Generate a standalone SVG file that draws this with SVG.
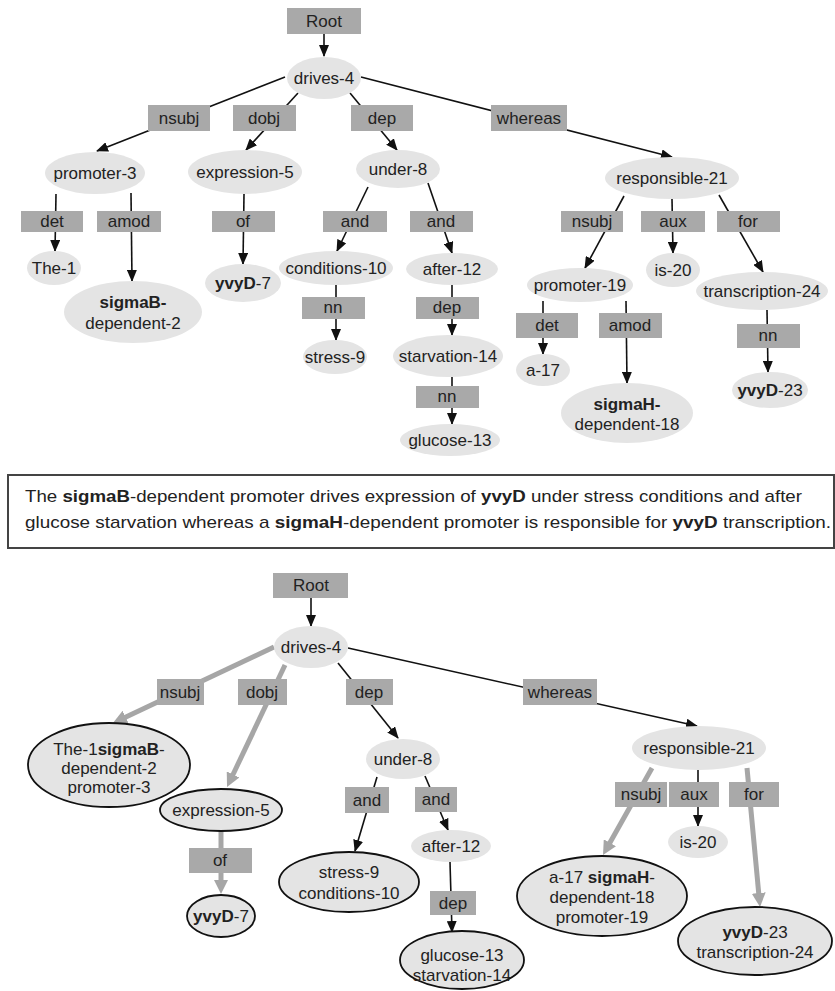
<svg xmlns="http://www.w3.org/2000/svg" width="835" height="991" viewBox="0 0 835 991">
<defs>
<style>
.box{fill:#a9a9a9}
.nd{fill:#e4e4e4}
.ol{fill:#e4e4e4;stroke:#111;stroke-width:1.8}
.t{font-family:"Liberation Sans",Arial,sans-serif;font-size:17px;fill:#222;text-anchor:middle}
.s{font-family:"Liberation Sans",Arial,sans-serif;font-size:17px;fill:#222}
.b{font-weight:bold}
.e{stroke:#111;stroke-width:1.6;fill:none;marker-end:url(#ah)}
.g{stroke:#a6a6a6;stroke-width:5;fill:none;marker-end:url(#gh)}
</style>
<marker id="ah" markerUnits="userSpaceOnUse" markerWidth="12" markerHeight="10" viewBox="0 0 12 10" refX="11" refY="5" orient="auto"><path d="M0,0 L12,5 L0,10 z" fill="#111"/></marker>
<marker id="gh" markerUnits="userSpaceOnUse" markerWidth="14" markerHeight="14" viewBox="0 0 14 14" refX="2" refY="7" orient="auto"><path d="M0,0 L14,7 L0,14 z" fill="#a6a6a6"/></marker>
</defs>
<rect width="835" height="991" fill="#fff"/>

<g id="connectors">
<!-- top tree -->
<path class="e" d="M324,34 L324,56"/>
<path class="e" d="M285,77 L97,151"/>
<path class="e" d="M298,93 L246,150"/>
<path class="e" d="M350,93 L397,150"/>
<path class="e" d="M361,77 L672,157"/>
<path class="e" d="M56,194 L55,251"/>
<path class="e" d="M131,193 L132,281"/>
<path class="e" d="M244,194 L243,264"/>
<path class="e" d="M368,187 L337,251"/>
<path class="e" d="M428,183 L452,253"/>
<path class="e" d="M336,285 L336,340"/>
<path class="e" d="M452,285 L452,335"/>
<path class="e" d="M452,377 L452,424"/>
<path class="e" d="M624,196 L585,268"/>
<path class="e" d="M672,199 L673,253"/>
<path class="e" d="M719,195 L763,272"/>
<path class="e" d="M543,301 L543,354"/>
<path class="e" d="M626,301 L627,383"/>
<path class="e" d="M767,310 L768,372"/>
<!-- bottom tree -->
<path class="e" d="M311,598 L311,626"/>
<path class="g" d="M274,647 L123.8,717.9"/>
<path class="g" d="M285,665 L232.2,776.2"/>
<path class="e" d="M338,663 L398,738"/>
<path class="e" d="M348,648 L697,726"/>
<path class="g" d="M221,831 L221,882"/>
<path class="e" d="M377,777 L355,851"/>
<path class="e" d="M425,776 L448,830"/>
<path class="e" d="M450,862 L452,932"/>
<path class="g" d="M652,768 L608.9,844.5"/>
<path class="e" d="M698,770 L698,826"/>
<path class="g" d="M747,768 L758.9,895"/>
</g>

<!-- top tree labels -->
<g id="l-root"><rect class="box" x="287" y="8" width="74" height="26"/><text class="t" x="324" y="27">Root</text></g>
<g id="l-nsubj"><rect class="box" x="148" y="105" width="62" height="26"/><text class="t" x="179" y="124">nsubj</text></g>
<g id="l-dobj"><rect class="box" x="233" y="105" width="63" height="26"/><text class="t" x="264" y="124">dobj</text></g>
<g id="l-dep"><rect class="box" x="351" y="105" width="62" height="26"/><text class="t" x="382" y="124">dep</text></g>
<g id="l-whereas"><rect class="box" x="491" y="105" width="76" height="26"/><text class="t" x="529" y="124">whereas</text></g>
<g id="l-det1"><rect class="box" x="21" y="211" width="62" height="21"/><text class="t" x="52" y="227">det</text></g>
<g id="l-amod1"><rect class="box" x="97" y="211" width="64" height="21"/><text class="t" x="129" y="227">amod</text></g>
<g id="l-of"><rect class="box" x="212" y="211" width="63" height="21"/><text class="t" x="243" y="227">of</text></g>
<g id="l-and1"><rect class="box" x="323" y="211" width="64" height="21"/><text class="t" x="355" y="227">and</text></g>
<g id="l-and2"><rect class="box" x="410" y="211" width="63" height="21"/><text class="t" x="441" y="227">and</text></g>
<g id="l-nsubj2"><rect class="box" x="561" y="211" width="62" height="21"/><text class="t" x="592" y="227">nsubj</text></g>
<g id="l-aux"><rect class="box" x="641" y="211" width="64" height="21"/><text class="t" x="673" y="227">aux</text></g>
<g id="l-for"><rect class="box" x="717" y="211" width="63" height="21"/><text class="t" x="748" y="227">for</text></g>
<g id="l-nn1"><rect class="box" x="302" y="297" width="63" height="22"/><text class="t" x="333" y="313">nn</text></g>
<g id="l-dep2"><rect class="box" x="416" y="297" width="63" height="22"/><text class="t" x="447" y="313">dep</text></g>
<g id="l-nn2"><rect class="box" x="416" y="386" width="63" height="22"/><text class="t" x="447" y="402">nn</text></g>
<g id="l-det2"><rect class="box" x="516" y="313" width="62" height="25"/><text class="t" x="547" y="331">det</text></g>
<g id="l-amod2"><rect class="box" x="599" y="313" width="63" height="25"/><text class="t" x="630" y="331">amod</text></g>
<g id="l-nn3"><rect class="box" x="737" y="324" width="63" height="24"/><text class="t" x="768" y="341">nn</text></g>

<!-- top tree nodes -->
<g id="n-drives"><ellipse class="nd" cx="324" cy="78" rx="37" ry="21"/><text class="t" x="324" y="84">drives-4</text></g>
<g id="n-promoter3"><ellipse class="nd" cx="95" cy="173" rx="50" ry="21"/><text class="t" x="95" y="179">promoter-3</text></g>
<g id="n-expression5"><ellipse class="nd" cx="245" cy="172" rx="57" ry="22"/><text class="t" x="245" y="178">expression-5</text></g>
<g id="n-under8"><ellipse class="nd" cx="398" cy="169" rx="42" ry="19"/><text class="t" x="398" y="175">under-8</text></g>
<g id="n-responsible21"><ellipse class="nd" cx="672" cy="178" rx="67" ry="21"/><text class="t" x="672" y="184">responsible-21</text></g>
<g id="n-the1"><ellipse class="nd" cx="54" cy="268" rx="27" ry="17"/><text class="t" x="54" y="274">The-1</text></g>
<g id="n-sigmaB"><ellipse class="nd" cx="133" cy="312" rx="69" ry="31"/><text class="t b" x="133" y="308">sigmaB-</text><text class="t" x="133" y="329">dependent-2</text></g>
<g id="n-yvyD7"><ellipse class="nd" cx="243" cy="283" rx="38" ry="19"/><text class="t" x="243" y="289"><tspan class="b">yvyD</tspan>-7</text></g>
<g id="n-conditions10"><ellipse class="nd" cx="336" cy="268" rx="57" ry="17"/><text class="t" x="336" y="274">conditions-10</text></g>
<g id="n-after12"><ellipse class="nd" cx="452" cy="269" rx="46" ry="16"/><text class="t" x="452" y="275">after-12</text></g>
<g id="n-stress9"><ellipse class="nd" cx="335" cy="357" rx="32" ry="17"/><text class="t" x="335" y="363">stress-9</text></g>
<g id="n-starvation14"><ellipse class="nd" cx="448" cy="356" rx="55" ry="21"/><text class="t" x="448" y="362">starvation-14</text></g>
<g id="n-glucose13"><ellipse class="nd" cx="450" cy="440" rx="50" ry="16"/><text class="t" x="450" y="446">glucose-13</text></g>
<g id="n-promoter19"><ellipse class="nd" cx="580" cy="285" rx="53" ry="17"/><text class="t" x="580" y="291">promoter-19</text></g>
<g id="n-is20"><ellipse class="nd" cx="673" cy="270" rx="27" ry="17"/><text class="t" x="673" y="276">is-20</text></g>
<g id="n-transcription24"><ellipse class="nd" cx="762" cy="291" rx="66" ry="19"/><text class="t" x="762" y="297">transcription-24</text></g>
<g id="n-a17"><ellipse class="nd" cx="543" cy="370" rx="27" ry="16"/><text class="t" x="543" y="376">a-17</text></g>
<g id="n-sigmaH"><ellipse class="nd" cx="627" cy="413" rx="66" ry="30"/><text class="t b" x="627" y="410">sigmaH-</text><text class="t" x="627" y="430">dependent-18</text></g>
<g id="n-yvyD23"><ellipse class="nd" cx="770" cy="390" rx="38" ry="18"/><text class="t" x="770" y="396"><tspan class="b">yvyD</tspan>-23</text></g>

<!-- sentence box -->
<g id="sentence">
<rect x="8" y="475" width="826" height="73" fill="#fff" stroke="#444" stroke-width="2"/>
<text class="s" x="25" y="502" textLength="777" lengthAdjust="spacingAndGlyphs">The <tspan class="b">sigmaB</tspan>-dependent promoter drives expression of <tspan class="b">yvyD</tspan> under stress conditions and after</text>
<text class="s" x="25" y="528" textLength="806" lengthAdjust="spacingAndGlyphs">glucose starvation whereas a <tspan class="b">sigmaH</tspan>-dependent promoter is responsible for <tspan class="b">yvyD</tspan> transcription.</text>
</g>

<!-- bottom tree labels -->
<g id="m-root"><rect class="box" x="273" y="573" width="75" height="25"/><text class="t" x="311" y="591">Root</text></g>
<g id="m-nsubj"><rect class="box" x="157" y="679" width="47" height="26"/><text class="t" x="180" y="698">nsubj</text></g>
<g id="m-dobj"><rect class="box" x="238" y="679" width="49" height="26"/><text class="t" x="262" y="698">dobj</text></g>
<g id="m-dep"><rect class="box" x="346" y="679" width="47" height="26"/><text class="t" x="369" y="698">dep</text></g>
<g id="m-whereas"><rect class="box" x="523" y="679" width="74" height="26"/><text class="t" x="560" y="698">whereas</text></g>
<g id="m-of"><rect class="box" x="189" y="848" width="63" height="25"/><text class="t" x="220" y="866">of</text></g>
<g id="m-and1"><rect class="box" x="345" y="787" width="44" height="26"/><text class="t" x="367" y="806">and</text></g>
<g id="m-and2"><rect class="box" x="415" y="787" width="42" height="25"/><text class="t" x="436" y="805">and</text></g>
<g id="m-dep2"><rect class="box" x="430" y="891" width="46" height="24"/><text class="t" x="453" y="909">dep</text></g>
<g id="m-nsubj2"><rect class="box" x="615" y="782" width="52" height="25"/><text class="t" x="641" y="800">nsubj</text></g>
<g id="m-aux"><rect class="box" x="669" y="782" width="50" height="25"/><text class="t" x="694" y="800">aux</text></g>
<g id="m-for"><rect class="box" x="729" y="782" width="50" height="25"/><text class="t" x="754" y="800">for</text></g>

<!-- bottom tree nodes -->
<g id="m-drives"><ellipse class="nd" cx="311" cy="647" rx="37" ry="21"/><text class="t" x="311" y="653">drives-4</text></g>
<g id="m-np1"><ellipse class="ol" cx="109" cy="765" rx="81" ry="42"/><text class="t" x="109" y="755">The-1<tspan class="b">sigmaB</tspan>-</text><text class="t" x="109" y="774">dependent-2</text><text class="t" x="109" y="793">promoter-3</text></g>
<g id="m-expression5"><ellipse class="ol" cx="221" cy="810" rx="61" ry="21"/><text class="t" x="221" y="816">expression-5</text></g>
<g id="m-yvyD7"><ellipse class="ol" cx="221" cy="916" rx="34" ry="21"/><text class="t" x="221" y="922"><tspan class="b">yvyD</tspan>-7</text></g>
<g id="m-under8"><ellipse class="nd" cx="403" cy="759" rx="37" ry="20"/><text class="t" x="403" y="765">under-8</text></g>
<g id="m-stress"><ellipse class="ol" cx="349" cy="882" rx="70" ry="30"/><text class="t" x="349" y="878">stress-9</text><text class="t" x="349" y="899">conditions-10</text></g>
<g id="m-after12"><ellipse class="nd" cx="451" cy="846" rx="40" ry="16"/><text class="t" x="451" y="852">after-12</text></g>
<g id="m-glucose"><ellipse class="ol" cx="462" cy="960" rx="62" ry="29"/><text class="t" x="462" y="961">glucose-13</text><text class="t" x="462" y="981">starvation-14</text></g>
<g id="m-responsible21"><ellipse class="nd" cx="699" cy="748" rx="67" ry="22"/><text class="t" x="699" y="754">responsible-21</text></g>
<g id="m-np2"><ellipse class="ol" cx="602" cy="896" rx="85" ry="40"/><text class="t" x="602" y="883">a-17 <tspan class="b">sigmaH</tspan>-</text><text class="t" x="602" y="903">dependent-18</text><text class="t" x="602" y="923">promoter-19</text></g>
<g id="m-is20"><ellipse class="nd" cx="698" cy="842" rx="30" ry="16"/><text class="t" x="698" y="848">is-20</text></g>
<g id="m-yvyD23"><ellipse class="ol" cx="755" cy="941" rx="77" ry="34"/><text class="t" x="755" y="938"><tspan class="b">yvyD</tspan>-23</text><text class="t" x="755" y="958">transcription-24</text></g>
</svg>
